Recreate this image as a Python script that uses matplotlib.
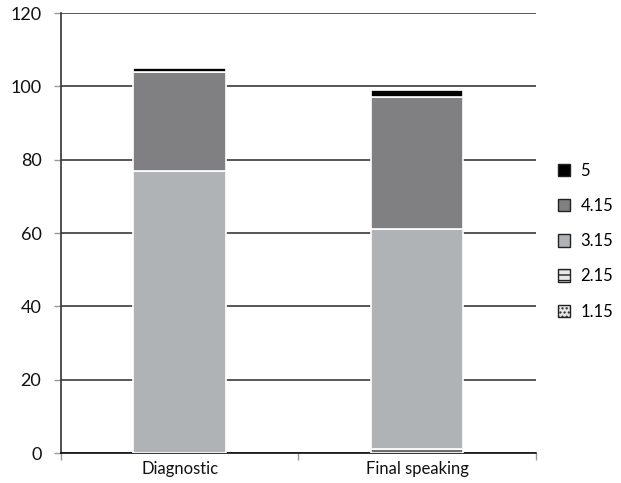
import matplotlib.pyplot as plt
import numpy as np

plt.rcParams['font.family'] = ['Lato', 'DejaVu Sans']
plt.rcParams['hatch.linewidth'] = 1.0

categories = ['Diagnostic', 'Final speaking']
levels = ['1.15', '2.15', '3.15', '4.15', '5']
level_115 = [0, 0]
level_215 = [0, 1]
level_315 = [77, 60]
level_415 = [27, 36]
level_5 = [1, 2]

series = [level_115, level_215, level_315, level_415, level_5]
colors = ['#c8c8c8', '#6e6e6e', '#b0b3b5', '#808083', '#000000']
hatches = ['....', '---', None, None, None]

fig = plt.figure(figsize=(6.21, 4.83), dpi=100)
ax = fig.add_axes([0.098, 0.062, 0.765, 0.911])

x = np.arange(len(categories))
bottom = np.zeros(len(categories))
handles = []
for name, vals, c, h in zip(levels, series, colors, hatches):
    vals = np.array(vals, dtype=float)
    ax.bar(x, vals, width=0.39, bottom=bottom, color=c, edgecolor='white',
           linewidth=1.2, zorder=3)
    bottom += vals
    handles.append(plt.Rectangle((0, 0), 1, 1, facecolor=c if h is None else '#e8e8e8',
                                 hatch=h, edgecolor='#222222', linewidth=1.0, label=name))

ax.set_xlim(-0.5, 1.5)
ax.set_ylim(0, 120)
ax.set_yticks(range(0, 121, 20))
ax.yaxis.grid(True, color='#3a3a3a', linewidth=1.2, zorder=0)
ax.set_axisbelow(True)

ax.set_xticks(x)
ax.set_xticklabels(categories)
ax.tick_params(axis='x', length=0, labelsize=12, pad=6, colors='#111111')
ax.set_xticks([-0.5, 0.5, 1.5], minor=True)
ax.tick_params(axis='x', which='minor', length=5, color='#999999', width=1)
ax.tick_params(axis='y', length=5, color='#999999', width=1, labelsize=13, pad=9,
               labelcolor='#111111')

for s in ['top', 'right']:
    ax.spines[s].set_visible(False)
ax.spines['left'].set_color('#333333')
ax.spines['bottom'].set_color('#111111')
ax.spines['left'].set_linewidth(1.2)
ax.spines['bottom'].set_linewidth(1.2)

fig.legend(handles=handles[::-1], loc='upper left', bbox_to_anchor=(0.885, 0.68),
           frameon=False, fontsize=12, handlelength=0.75, handleheight=0.75,
           handletextpad=0.6, labelspacing=1.15, borderpad=0)

fig.savefig('out.png', dpi=100)
